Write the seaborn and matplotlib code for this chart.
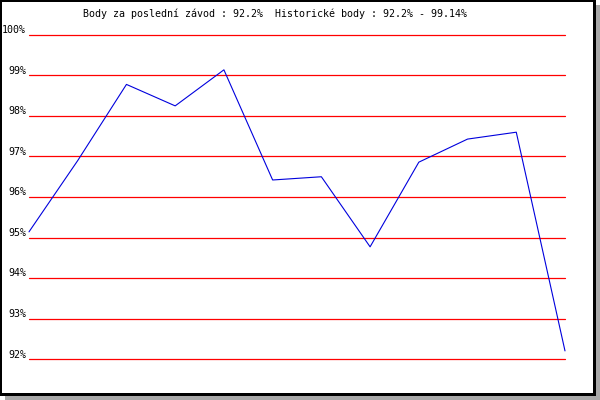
import matplotlib
matplotlib.use("Agg")
import matplotlib.pyplot as plt
import matplotlib.transforms as mtransforms
from matplotlib.patches import Rectangle
import seaborn as sns
import pandas as pd

# Data
races = list(range(12))
points = [95.14, 96.9, 98.78, 98.25, 99.14, 96.42, 96.5, 94.77, 96.86, 97.43, 97.6, 92.2]
tick_values = [92, 93, 94, 95, 96, 97, 98, 99, 100]
tick_labels = ["92%", "93%", "94%", "95%", "96%", "97%", "98%", "99%", "100%"]
title_text = "Body za poslední závod : 92.2%  Historické body : 92.2% - 99.14%"

sns.set_style("white")
plt.rcParams['font.family'] = ['DejaVu Sans Mono']

W, H = 600, 400
fig = plt.figure(figsize=(6, 4), dpi=100)
fig.patch.set_facecolor("white")

left, right = 29, 565
top, bottom = 35, 359
ax = fig.add_axes([left / W, 1 - bottom / H, (right - left) / W, (bottom - top) / H])

for v in tick_values:
    ax.axhline(v, color="red", linewidth=0.9, clip_on=False, zorder=1)

df = pd.DataFrame({"race": races, "points": points})
sns.lineplot(data=df, x="race", y="points", ax=ax, color="#0000DD", linewidth=0.8, clip_on=False, zorder=3)

ax.set_xlim(0, 11)
ax.set_ylim(92, 100)
ax.set_yticks(tick_values)
ax.set_yticklabels(tick_labels, fontsize=7.2, color="black")
ax.set_xticks([])
ax.set_xlabel("")
ax.set_ylabel("")
ax.tick_params(axis="y", length=0, pad=2.2)
for s in ax.spines.values():
    s.set_visible(False)
ax.grid(False)
ax.set_facecolor("white")

offset = mtransforms.ScaledTranslation(0, 5.5 / 100, fig.dpi_scale_trans)
for lab in ax.get_yticklabels():
    lab.set_transform(lab.get_transform() + offset)

fig.text(83 / W, 1 - 14 / H, title_text, fontsize=7.2, ha="left", va="center", color="black")

def rect(x0, y0, x1, y1, color):
    fig.patches.append(Rectangle((x0 / W, 1 - y1 / H), (x1 - x0) / W, (y1 - y0) / H,
                                 transform=fig.transFigure, facecolor=color, edgecolor="none", zorder=10))

# shadow
rect(596, 5, 600, 400, "#A8A8A8")
rect(5, 396, 600, 400, "#A8A8A8")
# frame
rect(0, 0, 596, 2, "black")
rect(0, 0, 2, 396, "black")
rect(593, 0, 596, 396, "black")
rect(0, 393, 596, 396, "black")

fig.savefig("out.png", dpi=100)
